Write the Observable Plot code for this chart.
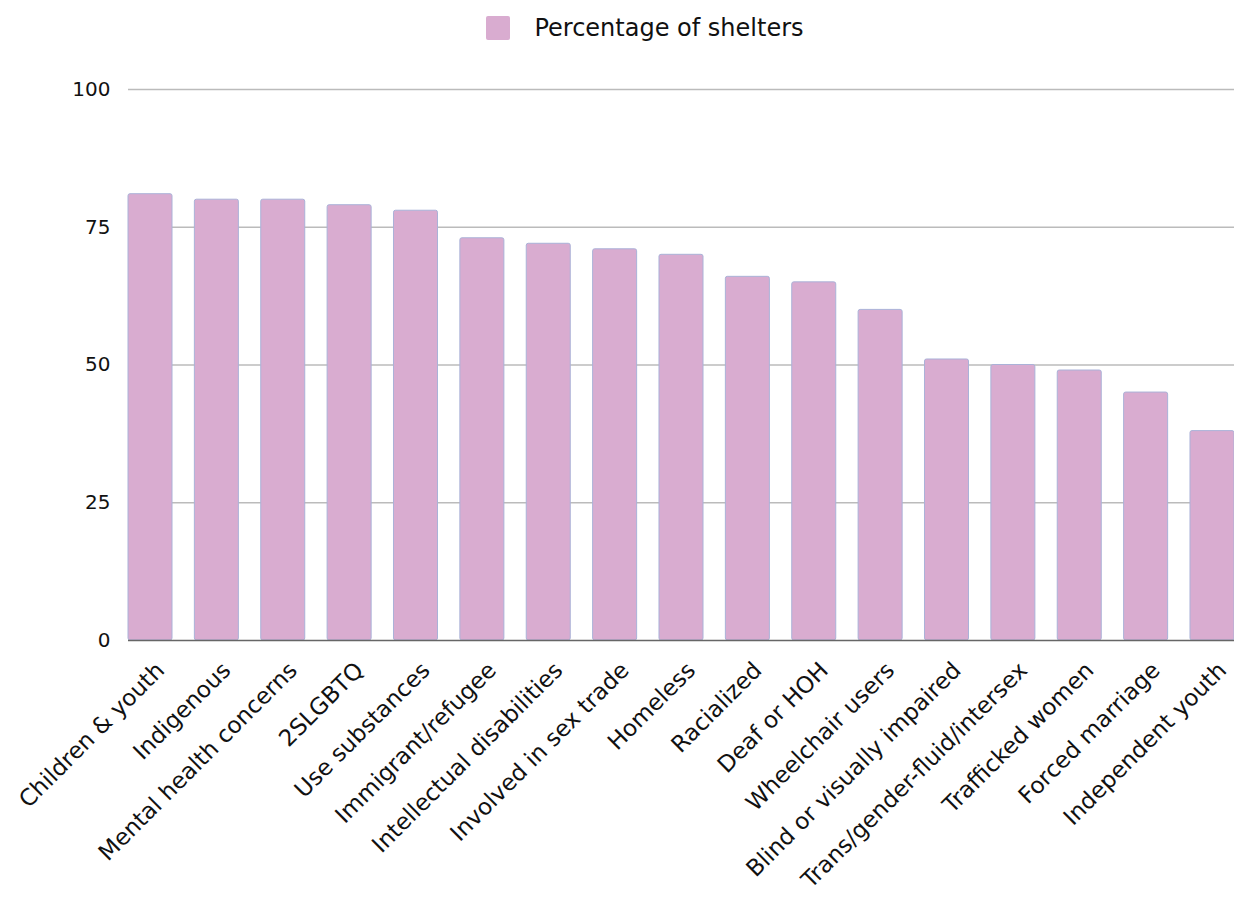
<!DOCTYPE html>
<html>
<head>
<meta charset="utf-8">
<script src="https://cdn.jsdelivr.net/npm/d3@7"></script>
<script src="https://cdn.jsdelivr.net/npm/@observablehq/plot@0.6"></script>
<style>
  body { margin: 0; background: #fff; font-family: "DejaVu Sans", sans-serif; }
  #legend { height: 55px; display: flex; justify-content: center; align-items: center; font-size: 24px; color: #111; padding-left: 56px; }
  #legend .sw { width: 24px; height: 24px; background: #d9acd0; border-radius: 2px; margin-right: 24px; }
</style>
</head>
<body>
<div id="legend"><div class="sw"></div><span>Percentage of shelters</span></div>
<div id="chart"></div>
<script>
const categories = [
  "Children & youth", "Indigenous", "Mental health concerns", "2SLGBTQ", "Use substances",
  "Immigrant/refugee", "Intellectual disabilities", "Involved in sex trade", "Homeless",
  "Racialized", "Deaf or HOH", "Wheelchair users", "Blind or visually impaired",
  "Trans/gender-fluid/intersex", "Trafficked women", "Forced marriage", "Independent youth"
];
const values = [81, 80, 80, 79, 78, 73, 72, 71, 70, 66, 65, 60, 51, 50, 49, 45, 38];
const yTicks = [0, 25, 50, 75, 100];

const data = categories.map((c, i) => ({category: c, value: values[i]}));

const chart = Plot.plot({
  width: 1234,
  height: 847,
  marginTop: 34,
  marginBottom: 262,
  marginLeft: 128,
  marginRight: 0,
  style: {fontFamily: "DejaVu Sans, sans-serif", fontSize: "20px", color: "#111"},
  x: {domain: categories, paddingInner: 0.337, paddingOuter: 0, round: false},
  y: {domain: [0, 100]},
  marks: [
    Plot.gridY(yTicks.filter(d => d > 0), {stroke: "#bbb", strokeOpacity: 1, strokeWidth: 1.5}),
    Plot.barY(data, {x: "category", y: "value", fill: "#d9acd0", stroke: "#aab2d8", strokeWidth: 1, rx: 2}),
    Plot.ruleY([0], {stroke: "#666", strokeWidth: 1.5}),
    Plot.axisY({ticks: yTicks, label: null, tickSize: 0, tickPadding: 18, fontSize: 20}),
    Plot.axisX({label: null, tickSize: 0, tickRotate: -45, tickPadding: 26, dx: 10, fontSize: 23})
  ]
});
document.getElementById("chart").appendChild(chart);
</script>
</body>
</html>
